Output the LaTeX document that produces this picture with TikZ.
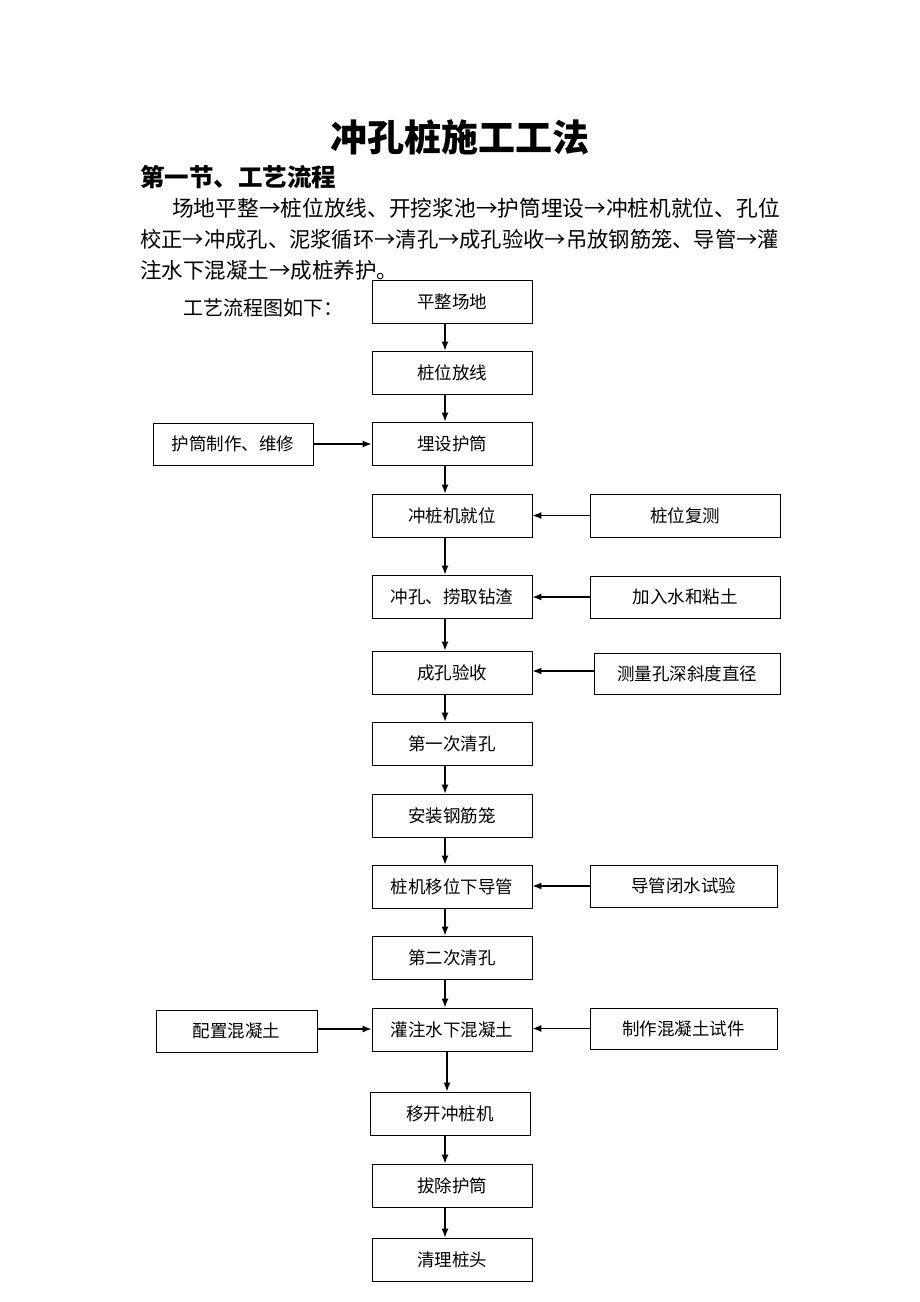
\documentclass[tikz,border=0pt]{standalone}
\usepackage{fontspec}
\setmainfont{Noto Sans CJK SC}
\usetikzlibrary{arrows.meta,calc}
\begin{document}
\begin{tikzpicture}[x=1pt,y=-1pt,
  box/.style={draw, line width=0.9pt, minimum height=43pt, inner sep=0pt,
    font=\fontsize{17.5}{18}\selectfont},
  mainbox/.style={box, minimum width=160pt},
  arr/.style={-{Latex[length=9pt,width=7pt]}, line width=1.3pt},
  bodytext/.style={anchor=west, inner sep=0pt, font=\fontsize{21.5}{22}\selectfont}]
\useasboundingbox (0,0) rectangle (920,1302);

\node[inner sep=0pt, font=\fontsize{37}{37}\selectfont\bfseries] (title) at (460,137) {冲孔桩施工工法};
\node[bodytext, font=\fontsize{24.5}{24.5}\selectfont\bfseries] (head) at (140,177) {第一节、工艺流程};
\node[bodytext, font=\fontsize{21.7}{22}\selectfont] (p1) at (172,208) {场地平整→桩位放线、开挖浆池→护筒埋设→冲桩机就位、孔位};
\node[bodytext, font=\fontsize{21.3}{22}\selectfont] (p2) at (140,239) {校正→冲成孔、泥浆循环→清孔→成孔验收→吊放钢筋笼、导管→灌};
\node[bodytext] (p3) at (140,270) {注水下混凝土→成桩养护。};
\node[bodytext, font=\fontsize{20}{20}\selectfont] (p4) at (183,308) {工艺流程图如下：};

% main column
\node[mainbox] (n1) at (452,301.5) {平整场地};
\node[mainbox] (n2) at (452,372.5) {桩位放线};
\node[mainbox] (n3) at (452,443.5) {埋设护筒};
\node[mainbox] (n4) at (452,515.5) {冲桩机就位};
\node[mainbox] (n5) at (452,596.5) {冲孔、捞取钻渣};
\node[mainbox] (n6) at (452,672.5) {成孔验收};
\node[mainbox] (n7) at (452,743.5) {第一次清孔};
\node[mainbox] (n8) at (452,815.5) {安装钢筋笼};
\node[mainbox] (n9) at (452,886.5) {桩机移位下导管};
\node[mainbox] (n10) at (452,957.5) {第二次清孔};
\node[mainbox] (n11) at (452,1029.5) {灌注水下混凝土};
\node[mainbox] (n12) at (450,1113.5) {移开冲桩机};
\node[mainbox] (n13) at (452,1185.5) {拔除护筒};
\node[mainbox] (n14) at (452,1259.5) {清理桩头};

% side boxes
\node[box, minimum width=160pt, minimum height=42pt] (l3) at (233,444) {护筒制作、维修};
\node[box, minimum width=190pt] (r4) at (685,515.5) {桩位复测};
\node[box, minimum width=190pt, minimum height=42pt] (r5) at (685,597) {加入水和粘土};
\node[box, minimum width=186pt, minimum height=41pt] (r6) at (687,673.5) {测量孔深斜度直径};
\node[box, minimum width=187pt, minimum height=42pt] (r9) at (683.5,886) {导管闭水试验};
\node[box, minimum width=161pt, minimum height=42pt] (l11) at (236.5,1031) {配置混凝土};
\node[box, minimum width=187pt, minimum height=41pt] (r11) at (683.5,1028.5) {制作混凝土试件};

% vertical connectors
\coordinate (vx) at (445,0);
\coordinate (vy) at (447,0);
\foreach \a/\b in {n1/n2,n2/n3,n3/n4,n4/n5,n5/n6,n6/n7,n7/n8,n8/n9,n9/n10,n10/n11,n12/n13,n13/n14}
  \draw[arr] (\a.south -| vx) -- (\b.north -| vx);
\draw[arr] (n11.south -| vy) -- (n12.north -| vy);

% horizontal connectors
\draw[arr] (l3.east) -- (l3.east -| n3.west);
\draw[arr] (r4.west) -- (r4.west -| n4.east);
\draw[arr] (r5.west) -- (r5.west -| n5.east);
\draw[arr] ($(r6.west)+(0,-2.5)$) -- ($(r6.west -| n6.east)+(0,-2.5)$);
\draw[arr] (r9.west) -- (r9.west -| n9.east);
\draw[arr] ($(l11.east)+(0,-2)$) -- ($(l11.east -| n11.west)+(0,-2)$);
\draw[arr] (r11.west) -- (r11.west -| n11.east);
\end{tikzpicture}
\end{document}
